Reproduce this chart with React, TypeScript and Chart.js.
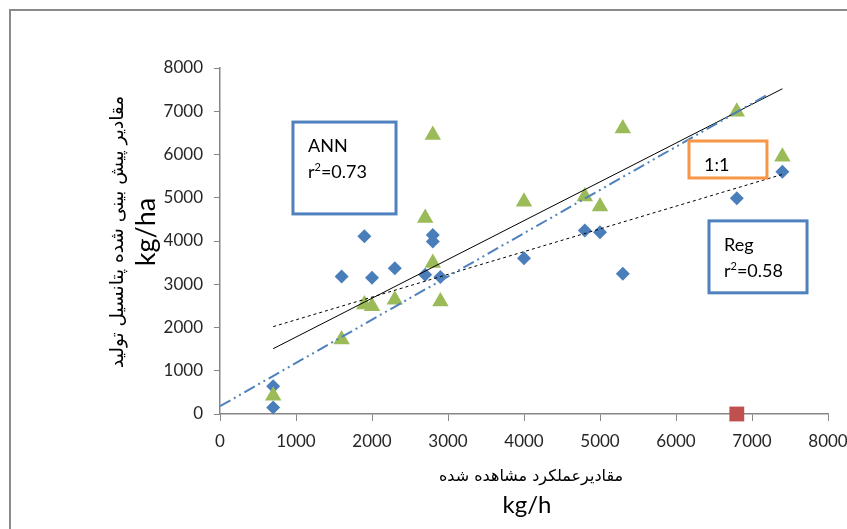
import React, { useEffect, useRef } from "react";
import { Chart, registerables } from "chart.js";

Chart.register(...registerables);

// ---- data ----
const xTickValues = [0, 1000, 2000, 3000, 4000, 5000, 6000, 7000, 8000];
const yTickValues = [0, 1000, 2000, 3000, 4000, 5000, 6000, 7000, 8000];

const blueX = [700, 700, 1600, 2000, 2300, 2700, 2900, 1900, 2800, 2800, 4000, 4800, 5000, 6800, 7400, 5300];
const blueY = [640, 150, 3180, 3150, 3370, 3220, 3170, 4110, 4140, 3990, 3600, 4240, 4200, 4990, 5600, 3240];

const greenX = [700, 1600, 1900, 2000, 2300, 2800, 2900, 2800, 2700, 4000, 4800, 5000, 5300, 6800, 7400];
const greenY = [420, 1720, 2530, 2490, 2640, 3490, 2600, 6450, 4530, 4910, 5030, 4800, 6600, 6990, 5950];

const redX = [6800];
const redY = [0];

const annTrendX = [700, 7400];
const annTrendY = [1510, 7520];
const regTrendX = [700, 7400];
const regTrendY = [2020, 5540];
const oneToOneX = [0, 7200];
const oneToOneY = [180, 7380];

const xTitleFa = "مقادیرعملکرد مشاهده شده";
const xTitleUnit = "kg/h";
const yTitleFa = "مقادیر پیش بینی شده پتانسیل تولید";
const yTitleUnit = "kg/ha";

const annotations = [
  { x0: 960, x1: 2316, y0: 6750, y1: 4626, color: "#4F81BD", line1: "ANN", r2: "0.73" },
  { x0: 6171, x1: 7197, y0: 6312, y1: 5457, color: "#F79646", line1: "1:1", r2: "" },
  { x0: 6434, x1: 7724, y0: 4465, y1: 2802, color: "#4F81BD", line1: "Reg", r2: "0.58" },
];

const zip = (xs: number[], ys: number[]) => xs.map((x, i) => ({ x, y: ys[i] }));

const FONT = "Lato, 'DejaVu Sans', sans-serif";
const FA_FONT = "'DejaVu Sans', sans-serif";

const decorPlugin = {
  id: "decor",
  beforeDraw(chart: any) {
    const ctx = chart.ctx;
    ctx.save();
    ctx.fillStyle = "#ffffff";
    ctx.fillRect(0, 0, chart.width, chart.height);
    ctx.strokeStyle = "#8a8a8a";
    ctx.lineWidth = 2;
    ctx.strokeRect(10, 10, chart.width + 20, chart.height + 20);
    ctx.restore();
  },
  afterDraw(chart: any) {
    const ctx = chart.ctx;
    const xs = chart.scales.x;
    const ys = chart.scales.y;
    const area = chart.chartArea;
    ctx.save();
    // axis titles
    ctx.fillStyle = "#000000";
    ctx.textAlign = "center";
    ctx.textBaseline = "middle";
    const cx = (area.left + area.right) / 2;
    ctx.font = `16px ${FA_FONT}`;
    ctx.fillText(xTitleFa, cx + 7, 477);
    ctx.font = `24px ${FONT}`;
    ctx.fillText(xTitleUnit, cx + 3, 505);

    const cy = 232;
    ctx.save();
    ctx.translate(118, cy);
    ctx.rotate(-Math.PI / 2);
    ctx.font = `18.5px ${FA_FONT}`;
    ctx.fillText(yTitleFa, 0, 0);
    ctx.restore();
    ctx.save();
    ctx.translate(146, cy);
    ctx.rotate(-Math.PI / 2);
    ctx.font = `27px ${FONT}`;
    ctx.fillText(yTitleUnit, 0, 0);
    ctx.restore();

    // text boxes
    for (const a of annotations) {
      const l = xs.getPixelForValue(a.x0);
      const r = xs.getPixelForValue(a.x1);
      const t = ys.getPixelForValue(a.y0);
      const b = ys.getPixelForValue(a.y1);
      ctx.fillStyle = "#ffffff";
      ctx.fillRect(l, t, r - l, b - t);
      ctx.strokeStyle = a.color;
      ctx.lineWidth = 3;
      ctx.strokeRect(l, t, r - l, b - t);
      ctx.fillStyle = "#000000";
      ctx.textAlign = "left";
      ctx.textBaseline = "alphabetic";
      ctx.font = `18px ${FONT}`;
      ctx.fillText(a.line1, l + 15, t + 30);
      if (a.r2) {
        let px = l + 15;
        const py = t + 56;
        ctx.fillText("r", px, py);
        px += ctx.measureText("r").width;
        ctx.font = `11px ${FONT}`;
        ctx.fillText("2", px, py - 7);
        px += ctx.measureText("2").width;
        ctx.font = `18px ${FONT}`;
        ctx.fillText("=" + a.r2, px, py);
      }
    }
    ctx.restore();
  },
};

export default function App() {
  const ref = useRef<HTMLCanvasElement | null>(null);
  useEffect(() => {
    if (!ref.current) return;
    const axisColor = "#868686";
    const chart = new Chart(ref.current, {
      type: "scatter",
      data: {
        datasets: [
          {
            label: "1:1",
            data: zip(oneToOneX, oneToOneY),
            showLine: true,
            borderColor: "#4F81BD",
            borderWidth: 2,
            borderDash: [12, 4, 2, 4, 2, 4],
            pointRadius: 0,
            fill: false,
          },
          {
            label: "ANN trend",
            data: zip(annTrendX, annTrendY),
            showLine: true,
            borderColor: "#000000",
            borderWidth: 1,
            pointRadius: 0,
            fill: false,
          },
          {
            label: "Reg trend",
            data: zip(regTrendX, regTrendY),
            showLine: true,
            borderColor: "#000000",
            borderWidth: 1,
            borderDash: [3, 3],
            pointRadius: 0,
            fill: false,
          },
          {
            label: "red",
            data: zip(redX, redY),
            pointStyle: "rect",
            pointRadius: 10.5,
            backgroundColor: "#C0504D",
            borderColor: "#C0504D",
            borderWidth: 0,
            clip: false,
          },
          {
            label: "ANN",
            data: zip(greenX, greenY),
            pointStyle: "triangle",
            pointRadius: 9.5,
            backgroundColor: "#9BBB59",
            borderColor: "#9BBB59",
            borderWidth: 0,
            clip: false,
          },
          {
            label: "Reg",
            data: zip(blueX, blueY),
            pointStyle: "rectRot",
            pointRadius: 7,
            backgroundColor: "#4A7EBB",
            borderColor: "#4A7EBB",
            borderWidth: 0,
            clip: false,
          },
        ],
      },
      options: {
        animation: false,
        responsive: false,
        devicePixelRatio: 1,
        layout: { padding: { left: 0, top: 68, right: 19, bottom: 0 } },
        plugins: { legend: { display: false }, tooltip: { enabled: false } },
        scales: {
          x: {
            type: "linear",
            min: 0,
            max: 8000,
            afterBuildTicks: (s: any) => {
              s.ticks = xTickValues.map((v) => ({ value: v }));
            },
            ticks: {
              font: { family: FONT, size: 17 },
              color: "#262626",
              padding: 10,
              maxRotation: 0,
              autoSkip: false,
              callback: (v: any) => String(v),
            },
            grid: { drawOnChartArea: false, drawTicks: true, tickLength: 7, color: axisColor },
            border: { color: axisColor, width: 1.5 },
            afterFit: (s: any) => {
              s.height = 115;
              s.paddingLeft = 0;
              s.paddingRight = 0;
            },
          },
          y: {
            type: "linear",
            min: 0,
            max: 8000,
            afterBuildTicks: (s: any) => {
              s.ticks = yTickValues.map((v) => ({ value: v }));
            },
            ticks: {
              font: { family: FONT, size: 17 },
              color: "#262626",
              padding: 11,
              autoSkip: false,
              callback: (v: any) => String(v),
            },
            grid: { drawOnChartArea: false, drawTicks: true, tickLength: 6, color: axisColor },
            border: { color: axisColor, width: 1.5 },
            afterFit: (s: any) => {
              s.width = 220;
              s.paddingTop = 0;
              s.paddingBottom = 0;
            },
          },
        },
      },
      plugins: [decorPlugin],
    } as any);
    return () => chart.destroy();
  }, []);
  return (
    <div style={{ position: "absolute", left: 0, top: 0, width: 847, height: 529 }}>
      <canvas ref={ref} width={847} height={529} style={{ display: "block" }} />
    </div>
  );
}
